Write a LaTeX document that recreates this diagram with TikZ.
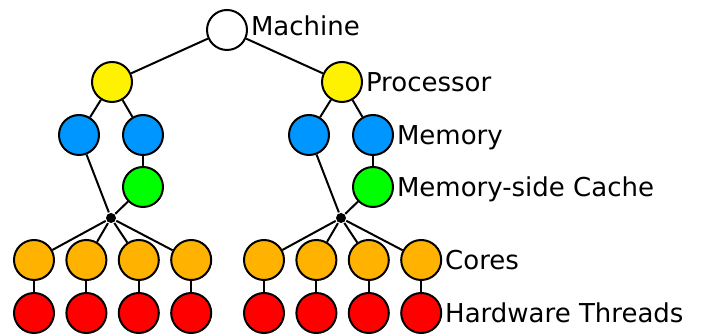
\documentclass[tikz,border=0pt]{standalone}
\usepackage{fontspec}
\setmainfont{DejaVu Sans}
\usepackage{tikz}
\usetikzlibrary{positioning}
\definecolor{memblue}{RGB}{0,150,255}
\definecolor{coreorange}{RGB}{255,178,0}
\def\procsep{230}

\begin{document}
\begin{tikzpicture}[x=0.5pt,y=-0.5pt,line width=1pt,font=\fontsize{13}{15}\selectfont]
    \tikzstyle{obj}=[circle,draw=black,minimum size=20pt,inner sep=0pt]
    \tikzstyle{machine}=[obj, fill=white];
    \tikzstyle{package}=[obj, fill=yellow];
    \tikzstyle{memory}=[obj, fill=memblue];
    \tikzstyle{cache}=[obj, fill=green];
    \tikzstyle{core}=[obj, fill=coreorange];
    \tikzstyle{thread}=[obj, fill=red];
    \tikzstyle{junction}=[circle,fill=black,minimum size=5pt,inner sep=0pt]
    \tikzstyle{annot} = [inner sep=1pt, text depth=0pt]
    \useasboundingbox (0,0) rectangle (712,335);

    % Draw the machine node
    \node[machine] (M) at (227,30) {};

    % Draw the processors with their memories and caches
    \foreach \p in {1,2} {
        \node[package] (P-\p) at (112+\procsep*\p-\procsep,82) {};
        \node[memory] (N-\p-1) at (79+\procsep*\p-\procsep,135) {};
        \node[memory] (N-\p-2) at (143+\procsep*\p-\procsep,135) {};
        \node[cache] (C-\p) at (143+\procsep*\p-\procsep,187) {};
        \node[junction] (J-\p) at (111+\procsep*\p-\procsep,218) {};
    }

    % Draw the cores and hardware threads
    \foreach \p in {1,2}
        \foreach \c in {1,...,4} {
            \node[core] (K-\p-\c) at (34+52.4*\c-52.4+\procsep*\p-\procsep,260) {};
            \node[thread] (T-\p-\c) at (34+52.4*\c-52.4+\procsep*\p-\procsep,313) {};
        }

    % Connect everything
    \foreach \p in {1,2} {
        \draw (M) -- (P-\p);
        \draw (P-\p) -- (N-\p-1);
        \draw (P-\p) -- (N-\p-2);
        \draw (N-\p-2) -- (C-\p);
        \draw (N-\p-1) -- (J-\p);
        \draw (C-\p) -- (J-\p);
    }

    \foreach \p in {1,2}
        \foreach \c in {1,...,4} {
            \draw (J-\p) -- (K-\p-\c);
            \draw (K-\p-\c) -- (T-\p-\c);
        }

    \node[annot,right=0pt of M,yshift=2pt] (lM) {Machine};
    \node[annot,right=0pt of P-2] (lP) {Processor};
    \node[annot,right=0pt of N-2-2] (lN) {Memory};
    \node[annot,right=0pt of C-2] (lC) {Memory-side Cache};
    \node[annot,right=0pt of K-2-4] (lK) {Cores};
    \node[annot,right=0pt of T-2-4] (lT) {Hardware Threads};

\end{tikzpicture}
\end{document}
